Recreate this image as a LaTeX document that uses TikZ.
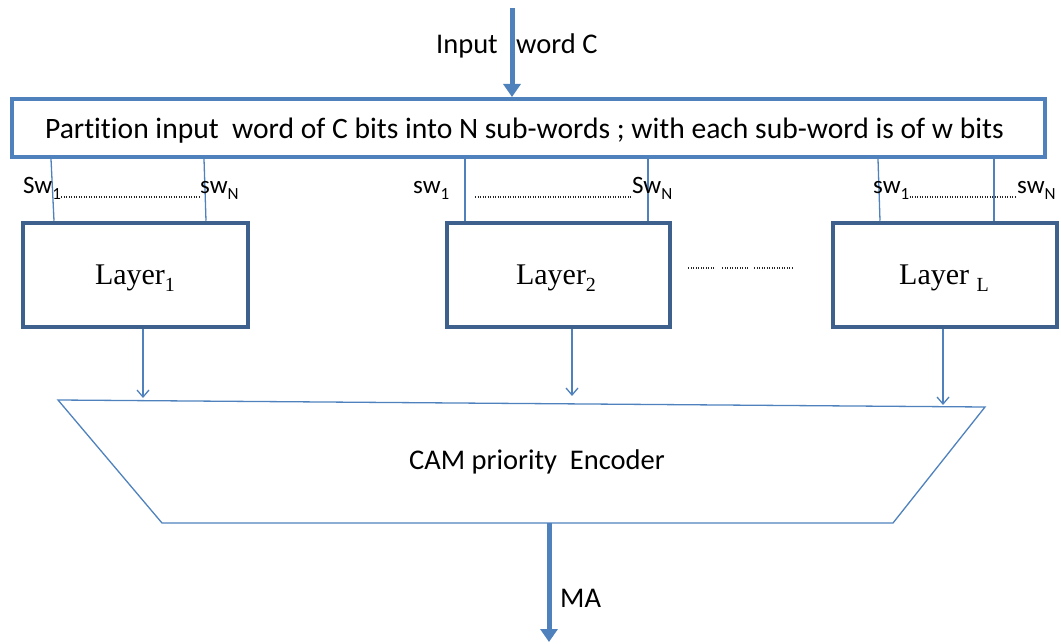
\documentclass[tikz,border=0pt]{standalone}
\usepackage{fontspec}
\setmainfont{Carlito}[Ligatures={NoCommon}]
\newfontfamily\serifface{Liberation Serif}
\usetikzlibrary{arrows.meta,calc}
\definecolor{lblue}{RGB}{79,129,189}
\definecolor{dblue}{RGB}{62,96,140}
\newcommand\subsc[1]{\raisebox{-0.45ex}{\fontsize{17}{17}\selectfont #1}}
\newcommand\lsub[1]{\raisebox{-0.5ex}{\fontsize{20}{20}\selectfont #1}}
\begin{document}
\begin{tikzpicture}[x=1pt,y=-1pt,
  txt/.style={font=\fontsize{28.5}{32}\selectfont, inner sep=0pt},
  swtxt/.style={font=\fontsize{25}{28}\selectfont, inner sep=0pt, anchor=base west},
  partbox/.style={draw=lblue, line width=4pt, minimum width=1033pt, minimum height=58pt, inner sep=0pt},
  layerbox/.style={draw=dblue, line width=4.5pt, minimum height=104pt, inner sep=0pt},
  layertxt/.style={font=\serifface\fontsize{30}{32}\selectfont, inner sep=0pt, anchor=base},
  swline/.style={draw=lblue, line width=1.3pt},
  dotline/.style={draw=black!85, line width=1.2pt, dash pattern=on 1pt off 1.5pt},
  thinarrow/.style={draw=lblue, line width=1.3pt, -{Straight Barb[length=7pt,width=12pt,line width=1.3pt]}},
  thickarrow/.style={draw=lblue, line width=5pt, -{Triangle[length=13pt,width=17pt]}}
]
\useasboundingbox (0,0) rectangle (1061,644);

% partition box
\node[partbox] (P) at (528.5,128) {};
\node[txt, font=\fontsize{29.6}{32}\selectfont, anchor=base] (Pt) at (524.5,139) {Partition input\ \ word of C bits into N sub-words ; with each sub-word is of w bits};

% input arrow
\coordinate (in) at (512,8);
\draw[thickarrow] (in) -- (P.north -| in);
\node[txt, anchor=base east] (inA) at (498,54) {Input};
\node[txt, anchor=base west] (inB) at (516,54) {word C};

% layers
\node[layerbox, minimum width=225pt] (L1) at (135.5,275) {};
\node[layerbox, minimum width=223pt] (L2) at (558.5,275) {};
\node[layerbox, minimum width=224pt] (LL) at (945,275) {};
\node[layertxt] (L1t) at (135,285) {Layer\lsub{1}};
\node[layertxt] (L2t) at (556,285) {Layer\lsub{2}};
\node[layertxt] (LLt) at (944,285) {Layer \lsub{L}};

% sub-word lines
\draw[swline] (P.south -| 51,0) -- (L1.north -| 54,0);
\draw[swline] (P.south -| 204,0) -- (L1.north -| 206,0);
\draw[swline] (P.south -| 465,0) -- (L2.north -| 465,0);
\draw[swline] (P.south -| 648,0) -- (L2.north -| 648,0);
\draw[swline] (P.south -| 878,0) -- (LL.north -| 880,0);
\draw[swline] (P.south -| 994,0) -- (LL.north -| 994,0);

% sw labels
\node[swtxt] (s11) at (23,194) {Sw\subsc{1}};
\node[swtxt] (s1N) at (200,194) {sw\subsc{N}};
\node[swtxt] (s21) at (413,194) {sw\subsc{1}};
\node[swtxt] (s2N) at (632,194) {Sw\subsc{N}};
\node[swtxt] (s31) at (873,194) {sw\subsc{1}};
\node[swtxt] (s3N) at (1017,194) {sw\subsc{N}};

% dotted lines
\draw[dotline] (s11.base east) ++(0,3) coordinate (d1a) -- (s1N.base west |- d1a);
\draw[dotline] (475,197) -- (s2N.base west |- 0,197);
\draw[dotline] (s31.base east) ++(0,3) coordinate (d3a) -- (s3N.base west |- d3a);
\draw[dotline] (L2.east) ++(16,-7) coordinate (m1) -- ++(27,0);
\draw[dotline] (m1) ++(34,0) -- ++(26,0);
\draw[dotline] (m1) ++(66,0) -- ++(38,0);

% encoder
\coordinate (EA) at (58,400);
\coordinate (EB) at (985,407);
\coordinate (EC) at (893,523);
\coordinate (ED) at (162,523);
\draw[draw=lblue, line width=1.3pt, line join=miter] (EA) -- (EB) -- (EC) -- (ED) -- cycle;
\node[txt] (E) at (537,462) {CAM priority\ \ Encoder};

% layer -> encoder arrows
\coordinate (t1) at (143,398);
\coordinate (t2) at (572,396);
\coordinate (t3) at (943,405);
\draw[thinarrow] (L1.south -| t1) -- (t1);
\draw[thinarrow] (L2.south -| t2) -- (t2);
\draw[thinarrow] (LL.south -| t3) -- (t3);

% output
\coordinate (out) at (549,642);
\draw[thickarrow] (ED -| out) -- (out);
\node[txt, anchor=base west] (MA) at (560,607) {MA};
\end{tikzpicture}
\end{document}
